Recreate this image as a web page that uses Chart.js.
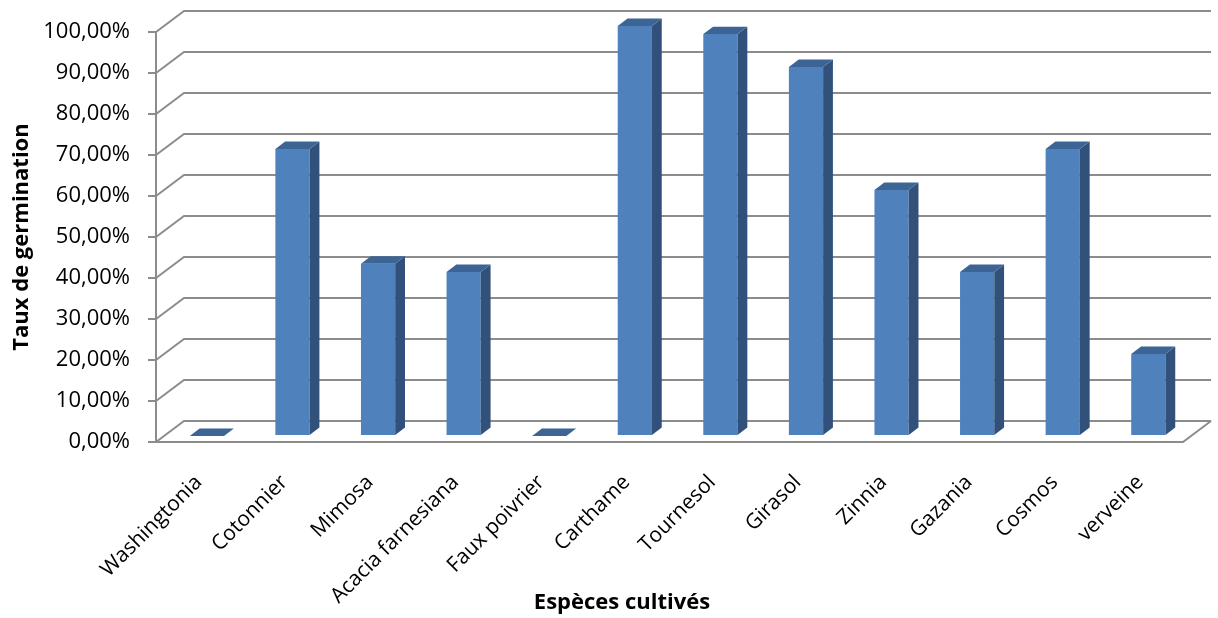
<!DOCTYPE html>
<html lang="fr">
<head>
<meta charset="utf-8">
<title>Taux de germination par espèce</title>
<script src="https://cdn.jsdelivr.net/npm/chart.js@4/dist/chart.umd.min.js"></script>
<style>
  html, body { margin: 0; padding: 0; background: #fff; }
  #wrap { width: 1218px; height: 618px; }
</style>
</head>
<body>
<div id="wrap"><canvas id="chart" width="1218" height="618"></canvas></div>
<script>
// Species and germination rates (%)
const species = ['Washingtonia', 'Cotonnier', 'Mimosa', 'Acacia farnesiana', 'Faux poivrier',
  'Carthame', 'Tournesol', 'Girasol', 'Zinnia', 'Gazania', 'Cosmos', 'verveine'];
const germinationRates = [0, 70, 42, 40, 0, 100, 98, 90, 60, 40, 70, 20];
const yTickValues = [0, 10, 20, 30, 40, 50, 60, 70, 80, 90, 100];
const xTitle = 'Espèces cultivés';
const yTitle = 'Taux de germination';

// 3D look: offset of the back wall and where the bars sit in depth
const WALL_DX = 28, WALL_DY = -21;
const BAR_Z_FRONT = 0.29, BAR_Z_BACK = 0.64;
const GRID_COLOR = '#8c8c8c';
const FRONT_COLOR = '#4F81BD';
const SIDE_COLOR = '#31507A';
const TOP_COLOR = '#3C6596';

const FONT = '"Open Sans", "Liberation Sans", sans-serif';

const fmtPct = v => v.toFixed(2).replace('.', ',') + '%';

const wallsPlugin = {
  id: 'walls3d',
  beforeDatasetsDraw(chart) {
    const { ctx, chartArea: a, scales: { y } } = chart;
    ctx.save();
    ctx.strokeStyle = GRID_COLOR;
    ctx.lineWidth = 2;
    // left wall diagonals + back wall horizontals
    yTickValues.forEach(v => {
      const py = y.getPixelForValue(v);
      ctx.beginPath();
      ctx.moveTo(a.left, py);
      ctx.lineTo(a.left + WALL_DX, py + WALL_DY);
      ctx.lineTo(a.right + WALL_DX, py + WALL_DY);
      ctx.stroke();
    });
    // floor: front edge and right edge
    ctx.beginPath();
    ctx.moveTo(a.left - 8, a.bottom);
    ctx.lineTo(a.right, a.bottom);
    ctx.lineTo(a.right + WALL_DX, a.bottom + WALL_DY);
    ctx.stroke();
    // front vertical axis line
    ctx.beginPath();
    ctx.moveTo(a.left, y.getPixelForValue(100));
    ctx.lineTo(a.left, a.bottom);
    ctx.stroke();
    ctx.restore();

    // shift the bars back into the depth of the box
    ctx.save();
    ctx.translate(WALL_DX * BAR_Z_FRONT, WALL_DY * BAR_Z_FRONT);
  },
  afterDatasetsDraw(chart) {
    const { ctx } = chart;
    const bdx = WALL_DX * (BAR_Z_BACK - BAR_Z_FRONT);
    const bdy = WALL_DY * (BAR_Z_BACK - BAR_Z_FRONT);
    chart.getDatasetMeta(0).data.forEach(bar => {
      const { x, y, base, width } = bar.getProps(['x', 'y', 'base', 'width'], true);
      const l = x - width / 2, r = x + width / 2;
      // side face
      ctx.fillStyle = SIDE_COLOR;
      ctx.beginPath();
      ctx.moveTo(r, y);
      ctx.lineTo(r + bdx, y + bdy);
      ctx.lineTo(r + bdx, base + bdy);
      ctx.lineTo(r, base);
      ctx.closePath();
      ctx.fill();
      // top face
      ctx.fillStyle = TOP_COLOR;
      ctx.beginPath();
      ctx.moveTo(l, y);
      ctx.lineTo(l + bdx, y + bdy);
      ctx.lineTo(r + bdx, y + bdy);
      ctx.lineTo(r, y);
      ctx.closePath();
      ctx.fill();
    });
    ctx.restore();
  },
  afterDraw(chart) {
    // category axis title, centred under the whole plot
    const { ctx } = chart;
    ctx.save();
    ctx.fillStyle = '#000';
    ctx.font = 'bold 22px ' + FONT;
    ctx.textAlign = 'center';
    ctx.textBaseline = 'middle';
    ctx.fillText(xTitle, 622, 603);
    ctx.restore();
  }
};

new Chart(document.getElementById('chart'), {
  type: 'bar',
  data: {
    labels: species,
    datasets: [{
      label: yTitle,
      data: germinationRates,
      backgroundColor: FRONT_COLOR,
      borderWidth: 0,
      categoryPercentage: 1,
      barPercentage: 0.40,
      clip: false
    }]
  },
  options: {
    responsive: false,
    animation: false,
    events: [],
    layout: { padding: { top: 32, right: 35, left: 0, bottom: 6 } },
    plugins: {
      legend: { display: false },
      tooltip: { enabled: false }
    },
    scales: {
      y: {
        min: 0,
        max: 100,
        afterBuildTicks: s => { s.ticks = yTickValues.map(v => ({ value: v })); },
        afterFit: s => { s.width = 156; },
        border: { display: false },
        grid: {
          drawOnChartArea: false,
          drawTicks: true,
          tickLength: 8,
          color: GRID_COLOR,
          lineWidth: 2
        },
        ticks: {
          callback: v => fmtPct(v),
          color: '#000',
          padding: 18,
          font: { family: FONT, size: 22 }
        },
        title: {
          display: true,
          text: yTitle,
          color: '#000',
          padding: { top: 9, bottom: 0 },
          font: { family: FONT, size: 22, weight: 'bold' }
        }
      },
      x: {
        afterFit: s => { s.height = 618 - 442 - 6; },
        border: { display: false },
        grid: { display: false },
        ticks: {
          color: '#000',
          minRotation: 45,
          maxRotation: 45,
          padding: 20,
          font: { family: FONT, size: 21 }
        },
        title: { display: false }
      }
    }
  },
  plugins: [wallsPlugin]
});
</script>
</body>
</html>
